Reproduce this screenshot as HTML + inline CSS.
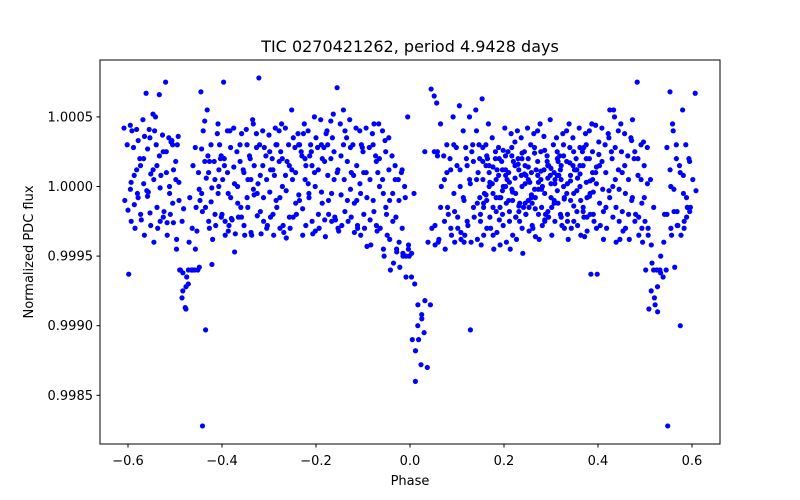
<!DOCTYPE html>
<html><head><meta charset="utf-8"><style>
html,body{margin:0;padding:0;background:#fff;}
svg{display:block;font-family:"DejaVu Sans","Liberation Sans",sans-serif;}
</style></head><body>
<svg id="chart" width="800" height="500">
<rect x="0" y="0" width="800" height="500" fill="#fff"/>
<text x="410" y="52" font-size="16" text-anchor="middle">TIC 0270421262, period 4.9428 days</text>
<g id="points"></g>
<rect x="100" y="60" width="620" height="384" fill="none" stroke="#000" stroke-width="1"/>
<g id="xticks"></g>
<g id="yticks"></g>
<text x="410" y="485" font-size="13" text-anchor="middle">Phase</text>
<text x="33" y="252" font-size="13" text-anchor="middle" transform="rotate(-90 33 252)">Normalized PDC flux</text>
</svg>
<script>
const xTicks=[-0.6,-0.4,-0.2,0.0,0.2,0.4,0.6];
const xTickLabels=["\u22120.6","\u22120.4","\u22120.2","0.0","0.2","0.4","0.6"];
const yTicks=[0.9985,0.9990,0.9995,1.0000,1.0005];
const yTickLabels=["0.9985","0.9990","0.9995","1.0000","1.0005"];
// columns: phase -> flux offsets in units of 1e-5
const columnPhases=[-0.60,-0.59,-0.58,-0.57,-0.56,-0.55,-0.54,-0.53,-0.52,-0.51,-0.50,-0.49,-0.48,-0.47,-0.46,-0.45,-0.44,-0.43,-0.42,-0.41,-0.40,-0.39,-0.38,-0.37,-0.36,-0.35,-0.34,-0.33,-0.32,-0.31,-0.30,-0.29,-0.28,-0.27,-0.26,-0.25,-0.24,-0.23,-0.22,-0.21,-0.20,-0.19,-0.18,-0.17,-0.16,-0.15,-0.14,-0.13,-0.12,-0.11,-0.10,-0.09,-0.08,-0.07,-0.06,-0.05,-0.04,-0.03,-0.02,-0.01,0.00,0.01,0.02,0.03,0.04,0.05,0.06,0.07,0.08,0.09,0.10,0.11,0.12,0.13,0.14,0.15,0.16,0.17,0.18,0.19,0.20,0.21,0.22,0.23,0.24,0.25,0.26,0.27,0.28,0.29,0.30,0.31,0.32,0.33,0.34,0.35,0.36,0.37,0.38,0.39,0.40,0.41,0.42,0.43,0.44,0.45,0.46,0.47,0.48,0.49,0.50,0.51,0.52,0.53,0.54,0.55,0.56,0.57,0.58,0.59,0.60];
const columnFluxOffsets=[
[42,30,-2,-10,-17,-25],[44,28,12,3,-13,-63,40],[41,20,8,-5,-20,-30,33],[48,67,15,2,-8,-24,36],[41,20,-3,-19,-35,27,9],[50,35,12,-7,-28,-40,-4],[52,30,22,5,-15,-25,40],[66,37,15,-1,-22,-30,8],[75,35,25,10,-5,-18,-35],[33,25,0,-12,-26,-20,12],[36,30,5,-10,-26,-38,32],[18,3,-25,-45,-60,-62,30],[-80,-87,-60,-75,-72,-60,-16],[-70,-60,-88,-40,-60,-65],[-60,-60,-30,-45,-8,15],[68,28,10,-5,-15,-58,-172,-32],[55,27,18,-2,-18,-103,-10,40],[47,22,-11,-15,-25,-56,6,18],[30,18,10,-1,-20,-30,-38],[38,20,5,-5,-22,-28,12],[75,45,22,15,0,-20,-35,30],[40,20,10,-8,-25,-32,5],[40,28,14,-5,-23,-47,-28],[42,25,18,2,-12,-24,-34],[30,12,0,-15,-28,-22,38],[41,22,10,-8,-22,-35,5],[48,30,20,-2,-15,-33,15],[78,45,28,5,-6,-21,-35],[38,30,15,-5,-18,-25,2],[40,22,8,-8,-30,-34,28],[37,20,5,-4,-20,-28,12],[42,25,12,-10,-22,-35,30],[45,30,18,0,-15,-30,8],[40,20,8,-8,-28,-37,25],[42,30,12,-3,-22,-33,18],[55,28,15,5,-12,-30,35],[38,25,10,-6,-22,-20,30],[45,30,22,5,-10,-35,15],[30,20,2,-16,-28,-8,38],[40,25,10,-5,-25,-32,22],[50,28,15,0,-20,-34,35],[48,28,12,-4,-24,-30,20],[40,30,18,8,-12,-36,-20],[52,30,20,5,-10,-25,38],[47,25,10,-5,-22,-30,35],[71,45,30,12,-6,-24,-32],[55,35,22,5,-10,-28,40],[48,30,18,-2,-18,-25,10],[42,28,8,-10,-22,-33,-30],[28,15,2,-12,-28,-35],[40,25,10,-5,-20,-43,30],[42,28,10,-8,-24,-30],[38,22,5,-10,-28,-42,45],[45,30,18,0,-18,-32],[33,20,5,-15,-30,-45,10],[40,25,12,-5,-20,-38,-50],[35,22,5,-10,-25,-35,-60],[15,5,-5,-22,-40,-55,-47],[10,0,-10,-30,-45,-58,-50],[50,12,-8,-42,-48,-50],[-5,-45,-48,-65,-50],[-65,-70,-85,-110,-118],[-100,-128,-140,-110,-95],[-105,-130,-92,-82],[-85,25,-40],[60,70,25,22,-30,-42],[65,25,-15,-28,-40],[45,22,10,0,-25,-38],[30,20,5,-15,-30,-45],[50,28,12,-5,-20,-35,-40],[58,30,15,0,-18,-30,-38],[28,12,-8,-22,-33,-40],[40,20,5,-10,-25,-103,-35],[50,30,15,2,-15,-28,-40],[55,30,18,5,-8,-22,-38,25],[63,40,20,5,-12,-25,-35,10],[45,28,15,0,-15,-30,-42,-5],[30,15,2,-10,-22,-35,20],[35,20,8,-5,-18,-30,-45,12],[28,18,5,-8,-20,-33,-42,0],[42,25,12,0,-15,-28,-40,-8],[38,22,10,-2,-12,-25,-35,5],[40,28,15,3,-10,-22,-45,18],[32,20,8,-5,-18,-30,-38,-12],[35,25,12,0,-12,-25,-48,8],[42,30,15,5,-8,-20,-32,-15],[38,20,10,-2,-15,-28,-36,3],[45,28,18,5,-8,-20,-30,12],[40,25,12,-2,-15,-25,-38,0],[36,22,8,-5,-18,-28,-20,15],[48,30,15,2,-10,-22,-35,5],[35,22,10,-3,-15,-25,18],[38,25,12,0,-12,-22,-30,8],[45,30,18,5,-8,-20,-28],[40,28,15,2,-10,-25,-38],[35,20,8,-5,-18,-30,12],[42,25,12,0,-15,-28,-35],[38,28,15,3,-10,-22,-32],[45,30,20,5,-8,-20,-36],[40,25,10,-5,-20,-30,-63],[44,32,18,2,-12,-25,-63],[42,30,15,-2,-15,-28,-38],[38,25,10,-3,-18,-30,55],[50,35,20,5,-8,-22,-40],[45,28,12,0,-15,-25,55],[40,25,15,-2,-18,-30,-38],[38,22,10,-5,-20,-32],[35,20,5,-10,-25,-38,48],[75,33,25,8,-8,-20,-35],[32,20,5,-8,-22,-30],[30,15,2,-12,-25,-35,-40],[28,5,-15,-30,-42,-60,-88],[-60,-60,-75,-80,-90,-55],[-60,-65,-72,-50,-85],[-60,-62,-40,-20],[45,28,12,-20,-172,-30],[68,40,20,0,-18,-28,-35],[30,15,-2,-18,-100,-58,-28],[55,30,10,-5,-22,-35,-25],[20,8,-8,-18,-30,-15],[67,18,5,-3,-15]
];
// extra dense observations in the mid-right band
const extraPhases=[0.155,0.165,0.175,0.185,0.195,0.205,0.215,0.225,0.235,0.245,0.255,0.265,0.275,0.285,0.295,0.305,0.315,0.325,0.335,0.345,0.355,0.365,0.375,0.385,0.395];
const extraFluxOffsets=[
[18,-6,-20],[10,-12,22],[25,3,-15],[14,-8,-24],[20,-3,8],[12,-10,26],[22,6,-18],[16,-4,-22],[9,-14,24],[20,2,-10],[14,-6,-20],[24,8,-12],[11,-16,3],[18,-2,-24],[26,6,-8],[13,-12,20],[8,-20,2],[22,-5,15],[17,-9,-25],[12,4,-14],[25,-3,9],[15,-18,6],[20,-7,28],[10,-22,4],[23,-4,14]
];
const NS="http://www.w3.org/2000/svg";
function xScale(p){return 410+p*470;}
function yScale(f){return 186.5-(f-1)*139200;}
const pg=document.getElementById('points');
function drawColumns(phases,offsets,seed){
  phases.forEach(function(ph,i){
    offsets[i].forEach(function(v,j){
      const jitter=((j*37+i*13+seed)%11-5)*0.0017;
      const c=document.createElementNS(NS,'circle');
      c.setAttribute('cx',xScale(ph+jitter).toFixed(2));
      c.setAttribute('cy',yScale(1+v*1e-5).toFixed(2));
      c.setAttribute('r','2.6');
      c.setAttribute('fill','#0000ff');
      
      
      pg.appendChild(c);
    });
  });
}
drawColumns(columnPhases,columnFluxOffsets,0);
drawColumns(extraPhases,extraFluxOffsets,5);
const xg=document.getElementById('xticks');
xTicks.forEach(function(t,i){
  const x=xScale(t);
  const l=document.createElementNS(NS,'line');
  l.setAttribute('x1',x);l.setAttribute('x2',x);l.setAttribute('y1',444);l.setAttribute('y2',447.5);
  l.setAttribute('stroke','#000');
  
  
  xg.appendChild(l);
  const tx=document.createElementNS(NS,'text');
  tx.setAttribute('x',x);tx.setAttribute('y',465);tx.setAttribute('font-size','13');tx.setAttribute('text-anchor','middle');
  tx.textContent=xTickLabels[i];
  
  
  xg.appendChild(tx);
});
const yg=document.getElementById('yticks');
yTicks.forEach(function(t,i){
  const y=yScale(t);
  const l=document.createElementNS(NS,'line');
  l.setAttribute('x1',96.5);l.setAttribute('x2',100);l.setAttribute('y1',y);l.setAttribute('y2',y);
  l.setAttribute('stroke','#000');
  
  
  yg.appendChild(l);
  const tx=document.createElementNS(NS,'text');
  tx.setAttribute('x',93);tx.setAttribute('y',y+4.5);tx.setAttribute('font-size','13');tx.setAttribute('text-anchor','end');
  tx.textContent=yTickLabels[i];
  
  
  yg.appendChild(tx);
});
</script>
</body></html>
